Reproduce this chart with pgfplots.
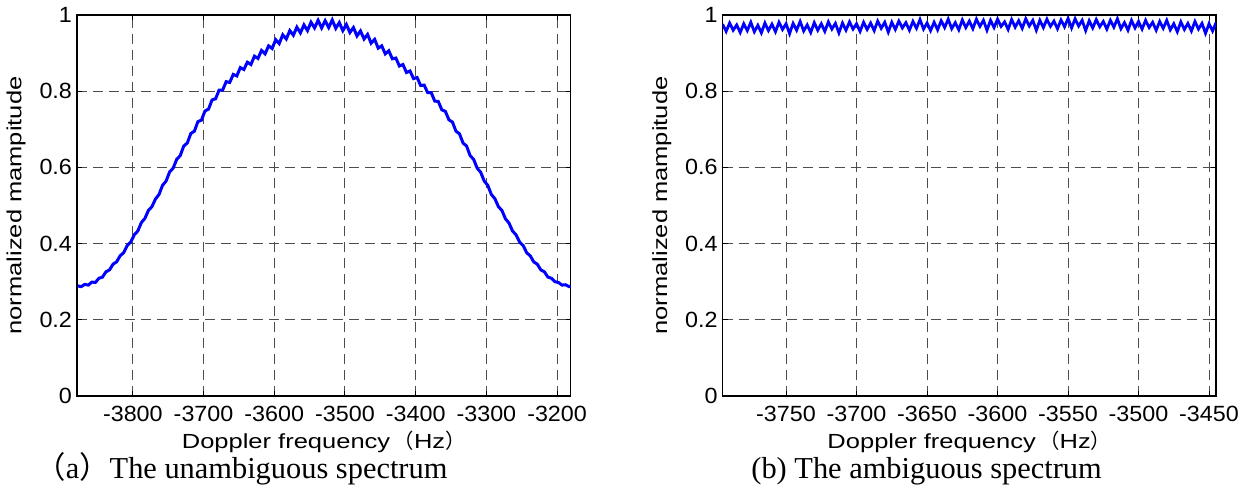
\documentclass[border=0pt]{standalone}
\usepackage{fontspec}
\setmainfont{Liberation Sans}
\newfontfamily\tickfont[FakeStretch=1.06]{Liberation Sans}
\newfontfamily\labfont[FakeStretch=1.25]{Liberation Sans}
\newfontfamily\capfont{Liberation Serif}
\newfontfamily\cjk{Noto Sans CJK SC}
\usepackage{pgfplots}
\pgfplotsset{compat=1.18}

\pgfplotsset{
  matlabax/.style={
    scale only axis, width=246.75pt, height=190.5pt,
    ymin=0, ymax=1, ytick={0,0.2,0.4,0.6,0.8,1},
    grid=major,
    major grid style={black!70, line width=0.5pt, dash pattern=on 5pt off 3pt},
    axis line style={line width=0.65pt},
    tick align=inside, major tick length=2.5pt,
    tick style={black, line width=0.5pt},
    tick label style={font=\tickfont\fontsize{11}{13}\selectfont},
    /pgf/number format/assume math mode=true,
    /pgf/number format/1000 sep={},
    xticklabel style={yshift=-1.6pt},
    yticklabel style={xshift=1pt},
    label style={font=\labfont\fontsize{10.2}{12}\selectfont},
    xlabel style={at={(axis description cs:0.5,-0.1375)}, anchor=base},
    ylabel style={at={(axis description cs:-0.1125,0.5)}, anchor=base},
    xlabel={Doppler frequency\,{\cjk （}Hz{\cjk ）}},
    ylabel={normalized mampitude},
  }
}

\begin{document}
\begin{tikzpicture}

% (a) unambiguous spectrum
\begin{axis}[matlabax,
  xmin=-3879, xmax=-3181,
  xtick={-3800,-3700,-3600,-3500,-3400,-3300,-3200},
]
\addplot[color=blue, line width=1.5pt] coordinates {
(-3878,.289) (-3873,.287) (-3868,.293) (-3863,.291) (-3858,.299) (-3853,.298) (-3848,.309) (-3843,.312) (-3838,.326) (-3833,.331)
(-3828,.346) (-3823,.352) (-3818,.368) (-3813,.376) (-3808,.395) (-3803,.404) (-3798,.423) (-3793,.433) (-3788,.455) (-3783,.466)
(-3778,.487) (-3773,.497) (-3768,.517) (-3763,.529) (-3758,.553) (-3753,.564) (-3748,.588) (-3743,.598) (-3738,.621) (-3733,.631)
(-3728,.656) (-3723,.664) (-3718,.689) (-3713,.695) (-3708,.720) (-3703,.724) (-3698,.748) (-3693,.753) (-3688,.777) (-3683,.780)
(-3678,.803) (-3673,.803) (-3668,.825) (-3663,.823) (-3658,.844) (-3653,.840) (-3648,.862) (-3643,.857) (-3638,.876) (-3633,.870)
(-3628,.892) (-3623,.886) (-3618,.907) (-3613,.898) (-3608,.919) (-3603,.912) (-3598,.935) (-3593,.925) (-3588,.948) (-3583,.937)
(-3578,.959) (-3573,.947) (-3568,.968) (-3563,.953) (-3558,.974) (-3553,.959) (-3548,.981) (-3543,.966) (-3538,.986) (-3533,.966)
(-3528,.985) (-3523,.967) (-3518,.987) (-3513,.965) (-3508,.980) (-3503,.959) (-3498,.975) (-3493,.954) (-3488,.967) (-3483,.945)
(-3478,.958) (-3473,.937) (-3468,.949) (-3463,.926) (-3458,.936) (-3453,.913) (-3448,.919) (-3443,.898) (-3438,.906) (-3433,.885)
(-3428,.887) (-3423,.866) (-3418,.870) (-3413,.849) (-3408,.853) (-3403,.833) (-3398,.836) (-3393,.815) (-3388,.816) (-3383,.796)
(-3378,.796) (-3373,.774) (-3368,.773) (-3363,.751) (-3358,.747) (-3353,.725) (-3348,.719) (-3343,.695) (-3338,.688) (-3333,.664)
(-3328,.656) (-3323,.631) (-3318,.621) (-3313,.598) (-3308,.587) (-3303,.564) (-3298,.553) (-3293,.529) (-3288,.518) (-3283,.497)
(-3278,.487) (-3273,.465) (-3268,.454) (-3263,.433) (-3258,.423) (-3253,.404) (-3248,.395) (-3243,.376) (-3238,.368) (-3233,.352)
(-3228,.346) (-3223,.331) (-3218,.326) (-3213,.312) (-3208,.309) (-3203,.300) (-3198,.298) (-3193,.291) (-3188,.292) (-3183,.287)
(-3178,.289)
};
\end{axis}

% (b) ambiguous spectrum
\begin{axis}[matlabax, at={(322.8pt,0pt)},
  xmin=-3795, xmax=-3445,
  xtick={-3750,-3700,-3650,-3600,-3550,-3500,-3450},
]
\addplot[color=blue, line width=1.4pt] coordinates {
(-3795,.976) (-3792.5,.957) (-3790,.979) (-3787.5,.960) (-3785,.974) (-3782.5,.954) (-3780,.977) (-3777.5,.959) (-3775,.981) (-3772.5,.956)
(-3770,.973) (-3767.5,.953) (-3765,.979) (-3762.5,.959) (-3760,.976) (-3757.5,.956) (-3755,.981) (-3752.5,.962) (-3750,.977) (-3747.5,.951)
(-3745,.978) (-3742.5,.960) (-3740,.983) (-3737.5,.958) (-3735,.974) (-3732.5,.954) (-3730,.980) (-3727.5,.960) (-3725,.977) (-3722.5,.957)
(-3720,.982) (-3717.5,.963) (-3715,.978) (-3712.5,.953) (-3710,.979) (-3707.5,.960) (-3705,.982) (-3702.5,.963) (-3700,.977) (-3697.5,.957)
(-3695,.981) (-3692.5,.962) (-3690,.979) (-3687.5,.959) (-3685,.984) (-3682.5,.965) (-3680,.981) (-3677.5,.955) (-3675,.981) (-3672.5,.962)
(-3670,.984) (-3667.5,.966) (-3665,.980) (-3662.5,.960) (-3660,.983) (-3657.5,.965) (-3655,.988) (-3652.5,.963) (-3650,.979) (-3647.5,.959)
(-3645,.981) (-3642.5,.961) (-3640,.985) (-3637.5,.967) (-3635,.989) (-3632.5,.964) (-3630,.980) (-3627.5,.961) (-3625,.987) (-3622.5,.967)
(-3620,.984) (-3617.5,.964) (-3615,.989) (-3612.5,.970) (-3610,.986) (-3607.5,.960) (-3605,.986) (-3602.5,.967) (-3600,.989) (-3597.5,.970)
(-3595,.982) (-3592.5,.962) (-3590,.988) (-3587.5,.968) (-3585,.985) (-3582.5,.965) (-3580,.990) (-3577.5,.971) (-3575,.986) (-3572.5,.960)
(-3570,.986) (-3567.5,.967) (-3565,.989) (-3562.5,.970) (-3560,.984) (-3557.5,.964) (-3555,.987) (-3552.5,.969) (-3550,.991) (-3547.5,.966)
(-3545,.990) (-3542.5,.971) (-3540,.986) (-3537.5,.959) (-3535,.985) (-3532.5,.966) (-3530,.988) (-3527.5,.969) (-3525,.983) (-3522.5,.963)
(-3520,.986) (-3517.5,.968) (-3515,.990) (-3512.5,.964) (-3510,.980) (-3507.5,.960) (-3505,.986) (-3502.5,.966) (-3500,.983) (-3497.5,.963)
(-3495,.986) (-3492.5,.967) (-3490,.981) (-3487.5,.960) (-3485,.983) (-3482.5,.965) (-3480,.986) (-3477.5,.961) (-3475,.977) (-3472.5,.956)
(-3470,.982) (-3467.5,.962) (-3465,.978) (-3462.5,.958) (-3460,.983) (-3457.5,.963) (-3455,.978) (-3452.5,.952) (-3450,.977) (-3447.5,.958)
(-3445,.980)
};
\end{axis}

% captions under the panels
\node[anchor=base west, inner sep=0pt, font=\capfont\fontsize{15.2}{18}\selectfont]
  at (-21pt,-41.3pt) {{\cjk （}a{\cjk ）}The unambiguous spectrum};
\node[anchor=base west, inner sep=0pt, font=\capfont\fontsize{15.2}{18}\selectfont]
  at (337pt,-41.5pt) {(b) The ambiguous spectrum};

\pgfresetboundingbox
\path (-38.5pt,-50.5pt) rectangle (585.5pt,198pt);
\end{tikzpicture}
\end{document}
